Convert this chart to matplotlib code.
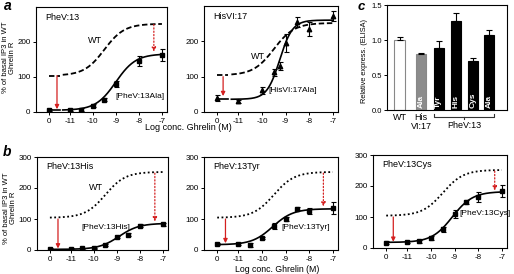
import numpy as np
import matplotlib
matplotlib.use("Agg")
import matplotlib.pyplot as plt
import matplotlib.transforms as mtransforms

plt.rcParams['font.family'] = ['Liberation Sans', 'DejaVu Sans']
plt.rcParams['font.size'] = 6

RED = '#d42020'
W, H = 514, 274

# x ticks: "0" = no agonist, then log concentrations
x_ctrl = -11.9
xticks = [x_ctrl, -11, -10, -9, -8, -7]
xticklabels = ['0', '-11', '-10', '-9', '-8', '-7']

# WT reference curve (bottom, top, logEC50, hill)
wt_fit = [104, 252, -9.5, 1.0]

# Panel a: PheV:13Ala
a_x = [-11, -10.5, -10, -9.5, -9, -8, -7]
a_y = [5, 7, 18, 35, 80, 145, 162]
a_err = [3, 3, 4, 5, 8, 15, 17]
a_ctrl = [5, 3]
a_fit = [5, 166, -9.0, 1.0]

# HisVI:17Ala
h_x = [-11, -10, -9.5, -9.25, -9, -8.5, -8, -7]
h_y = [30, 62, 112, 130, 195, 255, 235, 272]
h_err = [4, 10, 10, 12, 25, 15, 20, 15]
h_ctrl = [40, 8]
h_fit = [36, 260, -9.25, 1.6]

# Panel b: PheV:13His
b_x = [-11, -10.5, -10, -9.5, -9, -8.5, -8, -7]
b_y = [3, 5, 6, 16, 42, 50, 78, 83]
b_err = [2, 2, 2, 3, 4, 4, 5, 5]
b_ctrl = [3, 2]
b_fit = [2, 86, -8.9, 1.0]

# PheV:13Tyr
t_x = [-11, -10.5, -10, -9.5, -9, -8.5, -8, -7]
t_y = [18, 16, 38, 78, 99, 133, 126, 135]
t_err = [3, 6, 4, 10, 6, 5, 10, 20]
t_ctrl = [20, 3]
t_fit = [17, 133, -9.55, 1.0]

# PheV:13Cys
c_x = [-11, -10.5, -10, -9.5, -9, -8.5, -8, -7]
c_y = [19, 21, 33, 61, 109, 148, 165, 183]
c_err = [3, 6, 6, 8, 12, 6, 15, 20]
c_ctrl = [17, 4]
c_fit = [18, 182, -9.1, 1.0]

# Panel c: ELISA expression
bar_names = ['WT', 'Ala', 'Tyr', 'His', 'Cys', 'Ala']
bar_vals = [1.00, 0.80, 0.88, 1.27, 0.70, 1.07]
bar_errs = [0.04, 0.02, 0.11, 0.11, 0.05, 0.07]
bar_colors = ['white', '#8c8c8c', 'black', 'black', 'black', 'black']
bar_pos = [0.75, 2.0, 3.05, 4.05, 5.05, 6.0]


def sig(x, p):
    bot, top, ec, hill = p
    return bot + (top - bot) / (1 + 10 ** ((ec - x) * hill))


fig = plt.figure(figsize=(W / 100, H / 100), dpi=100)


def add_ax(l, r, t, b):
    return fig.add_axes([l / W, 1 - b / H, (r - l) / W, (b - t) / H])


def arrow(ax, x, y0, y1, dotted=False):
    ax.annotate('', xy=(x, y1), xytext=(x, y0),
                arrowprops=dict(arrowstyle='-|>', color=RED, lw=0.9,
                                linestyle=':' if dotted else '-',
                                mutation_scale=6, shrinkA=0, shrinkB=0))


def dose_panel(ax, xs, ys, errs, ctrl, fit, title, label, lab_xy, wt_xy,
               broken, wt_ls, marker, top_tick, arrows):
    xx = np.linspace(-11.3 if broken else x_ctrl, -7, 200)
    ax.plot(xx, sig(xx, wt_fit), color='black', ls=wt_ls, lw=1.3)
    ax.plot(xx, sig(xx, fit), color='black', lw=1.2)
    if broken:
        seg = [x_ctrl, -11.43]
        ax.plot(seg, [wt_fit[0]] * 2, color='black', ls=wt_ls, lw=1.3)
        ax.plot(seg, [sig(-12, fit)] * 2, color='black', lw=1.2)
    ax.errorbar(xs + [x_ctrl], ys + [ctrl[0]], yerr=errs + [ctrl[1]],
                fmt=marker, color='black', ms=3.2, capsize=1.8,
                elinewidth=0.8, capthick=0.8)
    ax.set_xlim(-12.46, -6.78)
    ax.set_ylim(0, 300)
    ax.set_xticks(xticks)
    ax.set_xticklabels(xticklabels)
    ax.set_yticks([0, 100, 200, 300] if top_tick else [0, 100, 200])
    ax.tick_params(length=2.5, width=0.7, pad=1.5, labelsize=5.8)
    for s in ax.spines.values():
        s.set_linewidth(0.8)
    ax.text(0.07, 0.9, title, transform=ax.transAxes, fontsize=6.5,
            va='center')
    ax.text(lab_xy[0], lab_xy[1], label, fontsize=6, va='center')
    if wt_xy:
        ax.text(wt_xy[0], wt_xy[1], 'WT', fontsize=6.5, va='center')
    for (x, y0, y1, d) in arrows:
        arrow(ax, x, y0, y1, d)


# top row
ax_a = add_ax(36, 167, 7, 112)
dose_panel(ax_a, a_x, a_y, a_err, a_ctrl, a_fit, 'PheV:13', '[PheV:13Ala]',
           (-9.0, 43), (-10.2, 205), True, (0, (3, 1.5)), 's', False,
           [(-11.55, 104, 8, False), (-7.35, 250, 172, True)])
ax_a.set_ylabel('% of basal IP3 in WT\nGhrelin R', fontsize=5.5,
                linespacing=1.0)
ax_a.yaxis.set_label_coords(-0.155, 0.52)

ax_h = add_ax(204, 338, 6, 112)
dose_panel(ax_h, h_x, h_y, h_err, h_ctrl, h_fit, 'HisVI:17', '[HisVI:17Ala]',
           (-9.75, 60), (-10.45, 158), True, (0, (3, 1.5)), '^', False,
           [(-11.65, 100, 45, False)])

fig.text(188 / W, 1 - 128 / H, 'Log conc. Ghrelin (M)', ha='center',
         va='center', fontsize=6.5)

# bottom row
ax_b = add_ax(37, 168, 157, 250)
dose_panel(ax_b, b_x, b_y, b_err, b_ctrl, b_fit, 'PheV:13His', '[PheV:13His]',
           (-10.55, 74), (-10.2, 200), False, (0, (1, 1.4)), 's', True,
           [(-11.55, 100, 5, False), (-7.35, 248, 92, True)])
ax_b.set_ylabel('% of basal IP3 in WT\nGhrelin R', fontsize=5.5,
                linespacing=1.0)
ax_b.yaxis.set_label_coords(-0.155, 0.45)

ax_t = add_ax(204, 338, 157, 250)
dose_panel(ax_t, t_x, t_y, t_err, t_ctrl, t_fit, 'PheV:13Tyr', '[PheV:13Tyr]',
           (-9.2, 71), None, False, (0, (1, 1.4)), 's', True,
           [(-11.55, 100, 22, False), (-7.4, 248, 140, True)])
fig.text(277 / W, 1 - 269 / H, 'Log conc. Ghrelin (M)', ha='center',
         va='center', fontsize=6.3)

ax_c2 = add_ax(373, 507, 155, 248)
dose_panel(ax_c2, c_x, c_y, c_err, c_ctrl, c_fit, 'PheV:13Cys', '[PheV:13Cys]',
           (-8.8, 110), None, False, (0, (1, 1.4)), 's', True,
           [(-11.6, 100, 20, False), (-7.3, 248, 185, True)])

# panel c bars
ax_e = add_ax(387, 507, 5, 110)
ax_e.bar(bar_pos, bar_vals, width=0.62, color=bar_colors,
         edgecolor=['#888888', '#888888', 'black', 'black', 'black', 'black'],
         lw=0.8, yerr=[[0] * 6, bar_errs], capsize=2,
         error_kw=dict(elinewidth=0.8, capthick=0.8))
for i in range(1, 6):
    ax_e.text(bar_pos[i], 0.03, bar_names[i], rotation=90, color='white',
              ha='center', va='bottom', fontsize=6, fontweight='bold')
ax_e.set_xlim(0, 7.06)
ax_e.set_ylim(0, 1.5)
ax_e.set_yticks([0, 0.5, 1.0, 1.5])
ax_e.set_yticklabels(['0.0', '0.5', '1.0', '1.5'])
ax_e.set_xticks(bar_pos[:2])
ax_e.set_xticklabels(['WT', 'His\nVI:17'], fontsize=6.5, linespacing=1.0)
ax_e.tick_params(axis='x', length=0, pad=2)
ax_e.tick_params(axis='y', length=2.5, width=0.7, pad=1.2, labelsize=5.5)
for s in ax_e.spines.values():
    s.set_linewidth(0.8)
ax_e.set_ylabel('Relative express. (ELISA)', fontsize=5.3)
ax_e.yaxis.set_label_coords(-0.16, 0.47)
tr = mtransforms.blended_transform_factory(ax_e.transData, ax_e.transAxes)
bx0, bx1 = bar_pos[2] - 0.3, bar_pos[5] + 0.3
ax_e.plot([bx0, bx0, bx1, bx1], [-0.04, -0.065, -0.065, -0.04], color='#333333',
          lw=0.8, transform=tr, clip_on=False)
ax_e.plot([(bx0 + bx1) / 2] * 2, [-0.065, -0.085], color='#333333', lw=0.8,
          transform=tr, clip_on=False)
ax_e.text((bx0 + bx1) / 2, -0.15, 'PheV:13', transform=tr, ha='center',
          va='center', fontsize=6.5)

# panel letters
fig.text(4 / W, 1 - 6 / H, 'a', fontsize=10, style='italic', fontweight='bold',
         va='center')
fig.text(3 / W, 1 - 152 / H, 'b', fontsize=10, style='italic',
         fontweight='bold', va='center')
fig.text(358 / W, 1 - 7 / H, 'c', fontsize=9.5, style='italic',
         fontweight='bold', va='center')

fig.savefig('out.png', dpi=100)
